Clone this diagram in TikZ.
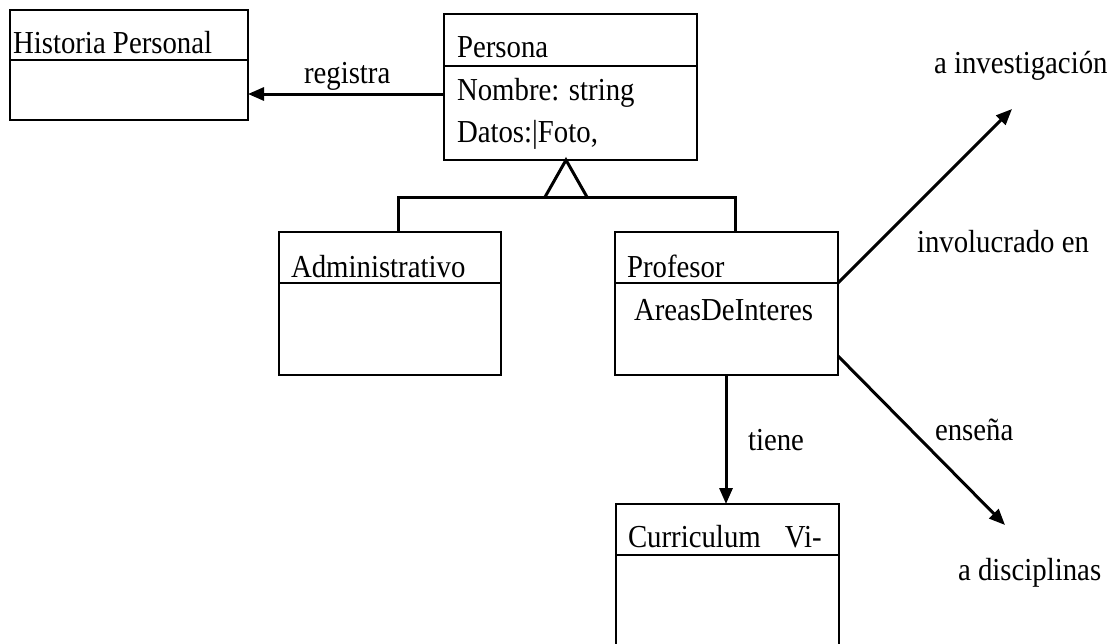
\documentclass[tikz,border=0pt]{standalone}
\usepackage{fontspec}
\setmainfont[FakeStretch=0.9]{Liberation Serif}
\usetikzlibrary{arrows.meta}
\tikzset{
  classbox/.style={draw, line width=1.8pt, rectangle, inner sep=0pt, outer sep=0pt, anchor=north west},
  divider/.style={line width=1.8pt},
  txt/.style={inner sep=0pt, outer sep=0pt, anchor=base west, font=\fontsize{32}{38}\selectfont},
  assoc/.style={line width=3pt, -{Triangle[length=16pt,width=13pt]}},
  gen/.style={line width=3pt}
}
\begin{document}
\begin{tikzpicture}[x=1pt,y=-1pt]
\useasboundingbox[fill=white] (0,0) rectangle (1115,643);

% class boxes
\node[classbox, minimum width=238pt, minimum height=110pt] (hist) at (10,10) {};
\node[classbox, minimum width=253pt, minimum height=146pt] (pers) at (444,14) {};
\node[classbox, minimum width=222pt, minimum height=143pt] (admin) at (279,232) {};
\node[classbox, minimum width=223pt, minimum height=143pt] (prof) at (615,232) {};
\node[classbox, minimum width=223pt, minimum height=160pt] (curr) at (616,504) {};

% compartment lines
\draw[divider] (hist.west |- 0,60) -- (hist.east |- 0,60);
\draw[divider] (pers.west |- 0,66) -- (pers.east |- 0,66);
\draw[divider] (admin.west |- 0,283) -- (admin.east |- 0,283);
\draw[divider] (prof.west |- 0,283) -- (prof.east |- 0,283);
\draw[divider] (curr.west |- 0,555) -- (curr.east |- 0,555);

% class names and attributes
\node[txt] (tHist) at (13,53) {Historia Personal};
\node[txt] (tPers) at (457,57) {Persona};
\node[txt] (tNom) at (457,100) {Nombre: string};
\node[txt] (tDat) at (457,142) {Datos:|Foto,};
\node[txt] (tAdm) at (291,277) {Administrativo};
\node[txt] (tProf) at (627,277) {Profesor};
\node[txt] (tAreas) at (634,320) {AreasDeInteres};
\node[txt] (tCurr) at (628,547) {Curriculum\hspace{17pt} Vi-};

% generalization
\coordinate (apex) at (pers.south -| 566,0);
\coordinate (bl) at (545,197);
\coordinate (br) at (587,197);
\coordinate (jl) at (admin.north -| 398,0);
\coordinate (jr) at (prof.north -| 735,0);
\draw[gen, line join=miter] (bl) -- (apex) -- (br);
\draw[gen] (jl) -- (jl |- bl) -- (jr |- br) -- (jr);

% associations
\coordinate (invEnd) at (1012,109);
\coordinate (ensEnd) at (1005,525);
\draw[assoc] (pers.west |- 0,94) -- (hist.east |- 0,94);
\draw[assoc] (prof.south -| 726,0) -- (curr.north -| 726,0);
\draw[assoc] (prof.east |- 0,283) -- (invEnd);
\draw[assoc] (prof.east |- 0,356) -- (ensEnd);

% association labels
\node[txt] (lReg) at (304,83) {registra};
\node[txt] (lTiene) at (748,450) {tiene};
\node[txt] (lInv) at (917,252) {involucrado en};
\node[txt] (lInvT) at (934,73) {a investigación};
\node[txt] (lEns) at (935,440) {enseña};
\node[txt] (lEnsT) at (958,580) {a disciplinas};
\end{tikzpicture}
\end{document}
